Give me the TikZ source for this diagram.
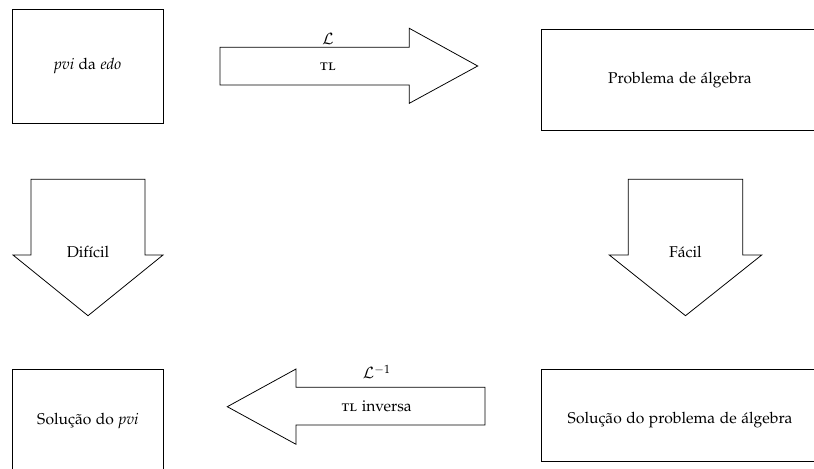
\documentclass[tikz,border=0pt]{standalone}
\usepackage[T1]{fontenc}
\usepackage[sc]{mathpazo}
\begin{document}
\begin{tikzpicture}[x=0.64pt,y=-0.64pt,
  box/.style={draw,line width=0.5pt},
  blockarrow/.style={draw,line width=0.5pt,line join=miter},
  lbl/.style={inner sep=0pt,font=\normalsize}]
\useasboundingbox (0,0) rectangle (814,468);
\begin{scope}
\clip (0,0) rectangle (814,468);
% boxes
\draw[box] (12.3,9.3) rectangle (163.3,123.3);
\node[lbl] (pvi) at (87.8,66.3) {\textit{pvi} da \textit{edo}};
\draw[box] (541.7,29.3) rectangle (840,130);
\node[lbl] (alg) at (680,80.5) {Problema de álgebra};
\draw[box] (12.3,369.3) rectangle (163.3,480);
\node[lbl] (sol) at (87.8,420.5) {Solução do \textit{pvi}};
\draw[box] (541.7,369.3) rectangle (840,461.7);
\node[lbl] (solalg) at (680,420.5) {Solução do problema de álgebra};
% right arrow (TL)
\draw[blockarrow] (220,47.3) -- (409.3,47.3) -- (409.3,28.3) -- (477.7,66) -- (409.3,103.3) -- (409.3,85) -- (220,85) -- cycle;
\node[lbl] (L) at (328,39) {$\mathcal{L}$};
\node[lbl] (tl) at (328,66.7) {\textsc{tl}};
% down arrow left (Dificil)
\draw[blockarrow] (31,179.3) -- (145,179.3) -- (145,255) -- (163,255) -- (88,315.7) -- (13,255) -- (31,255) -- cycle;
\node[lbl] (dif) at (88,251.7) {Difícil};
% down arrow right (Facil)
\draw[blockarrow] (628.3,179.3) -- (742.7,179.3) -- (742.7,255) -- (761.7,255) -- (685.5,315.7) -- (609.3,255) -- (628.3,255) -- cycle;
\node[lbl] (fac) at (685.5,251.7) {Fácil};
% left arrow (TL inversa)
\draw[blockarrow] (485,387.3) -- (296,387.3) -- (296,369) -- (227.3,406.7) -- (296,444.3) -- (296,425) -- (485,425) -- cycle;
\node[lbl] (Linv) at (376.7,372) {$\mathcal{L}^{-1}$};
\node[lbl] (tlinv) at (376.7,406.7) {\textsc{tl} inversa};
\end{scope}
\end{tikzpicture}
\end{document}
